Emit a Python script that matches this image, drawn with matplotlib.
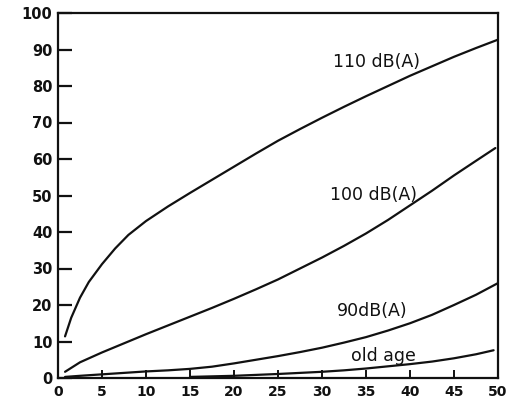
import matplotlib
matplotlib.use("Agg")
import matplotlib.pyplot as plt

# Data
x_110 = [0.8, 1.5, 2.5, 3.5, 5, 6.5, 8, 10, 12.5, 15, 17.5, 20, 22.5, 25, 27.5,
         30, 32.5, 35, 37.5, 40, 42.5, 45, 47.5, 50]
y_110 = [11.4, 16.5, 22, 26.3, 31.2, 35.5, 39.2, 43, 47, 50.7, 54.3, 57.9, 61.5, 65,
         68.2, 71.3, 74.3, 77.2, 80, 82.8, 85.4, 88, 90.4, 92.7]

x_100 = [0.8, 2.5, 5, 7.5, 10, 12.5, 15, 17.5, 20, 22.5, 25, 27.5, 30, 32.5, 35,
         37.5, 40, 42.5, 45, 47.5, 49.7]
y_100 = [1.7, 4.3, 7, 9.5, 12, 14.4, 16.8, 19.2, 21.7, 24.3, 27, 30, 33, 36.2, 39.6,
         43.3, 47.3, 51.3, 55.5, 59.5, 63]

x_90 = [0.8, 2.5, 5, 7.5, 10, 12.5, 15, 17.5, 20, 22.5, 25, 27.5, 30, 32.5, 35,
        37.5, 40, 42.5, 45, 47.5, 50]
y_90 = [0.3, 0.6, 1.0, 1.4, 1.8, 2.1, 2.5, 3.1, 4.0, 5.0, 6.0, 7.1, 8.3, 9.7, 11.2,
        13.0, 15.0, 17.3, 20.0, 22.8, 26.0]

x_old = [15, 20, 25, 27.5, 30, 32.5, 35, 37.5, 40, 42.5, 45, 47.5, 49.5]
y_old = [0.3, 0.6, 1.1, 1.4, 1.7, 2.1, 2.6, 3.2, 3.8, 4.5, 5.4, 6.5, 7.6]

curve_labels = ["110 dB(A)", "100 dB(A)", "90dB(A)", "old age"]
label_pos = [(36.2, 86.5), (35.8, 50.2), (35.7, 18.3), (37.0, 5.9)]

xticks = [0, 5, 10, 15, 20, 25, 30, 35, 40, 45, 50]
yticks = [0, 10, 20, 30, 40, 50, 60, 70, 80, 90, 100]

fig = plt.figure(figsize=(5.11, 3.98), dpi=100)
ax = fig.add_axes([58/511, 1-378/398, (498-58)/511, (378-13)/398])

lw = 1.6
for xs, ys in [(x_110, y_110), (x_100, y_100), (x_90, y_90), (x_old, y_old)]:
    ax.plot(xs, ys, color="#111111", lw=lw, solid_capstyle="round",
            solid_joinstyle="round")

for lab, (lx, ly) in zip(curve_labels, label_pos):
    ax.text(lx, ly, lab, ha="center", va="center", fontsize=12.5,
            family="DejaVu Sans", color="#111111")

ax.set_xlim(0, 50)
ax.set_ylim(0, 100)
ax.set_xticks(xticks)
ax.set_yticks(yticks)
ax.set_xticklabels([str(v) for v in xticks], fontsize=10, fontweight="bold")
ax.set_yticklabels([str(v) for v in yticks], fontsize=10.5, fontweight="bold")
ax.tick_params(axis="y", direction="in", length=10, width=1.6, pad=4, colors="#111111")
ax.tick_params(axis="x", direction="in", length=6, width=1.4, pad=5, colors="#111111")
for s in ax.spines.values():
    s.set_linewidth(1.6)
    s.set_color("#111111")

fig.savefig("out.png", dpi=100)
